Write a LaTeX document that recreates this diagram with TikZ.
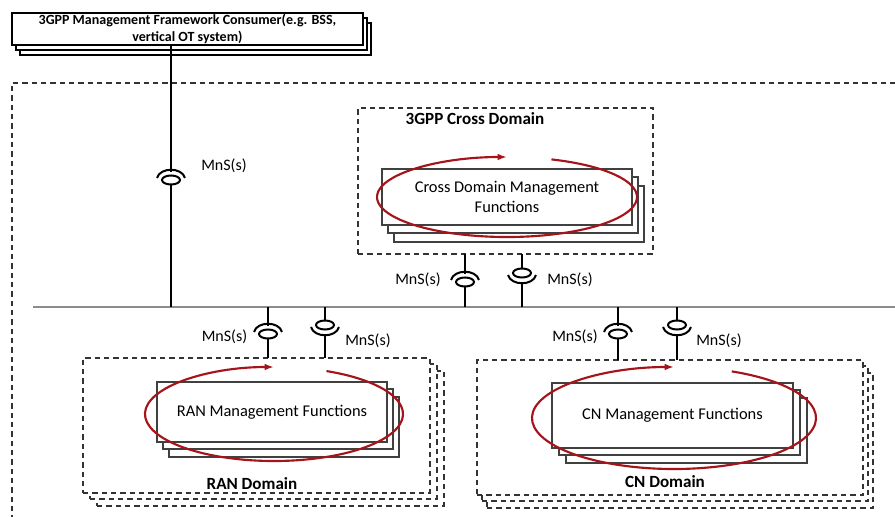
\documentclass[tikz,border=0pt]{standalone}
\usepackage{fontspec}
\setmainfont{Carlito}
\usetikzlibrary{arrows.meta, shadows, positioning}

\definecolor{loopred}{RGB}{165,20,26}
\definecolor{boxgray}{RGB}{64,64,64}
\definecolor{busgray}{RGB}{140,140,140}

% MnS symbols: socket above the ball, or ball above the socket
\tikzset{
    mnsup/.pic={
        \fill[white] (-1.5,-4.5) rectangle (1.5,0);
        \draw[conn] (-14,2) .. controls (-11,-9) and (11,-9) .. (14,2);
        \draw[conn, fill=white] (0,4) ellipse [x radius=9, y radius=4.5];
    },
    mnsdown/.pic={
        \fill[white] (-1.5,0) rectangle (1.5,4.5);
        \draw[conn] (-14,-2) .. controls (-11,9) and (11,9) .. (14,-2);
        \draw[conn, fill=white] (0,-4) ellipse [x radius=9, y radius=4.5];
    }
}

\begin{document}
\begin{tikzpicture}[
    x=0.75pt, y=-0.75pt,
    every node/.style={align=center, inner sep=0pt, outer sep=0pt},
    stacked/.style n args={4}{copy shadow={shadow xshift=#3, shadow yshift=-#4}, copy shadow={shadow xshift=#1, shadow yshift=-#2}},
    consumerbox/.style={rectangle, draw=black, fill=white, line width=0.8pt, font=\fontsize{10.5}{12.5}\selectfont\bfseries},
    dombox/.style={rectangle, draw=black!80, fill=white, line width=0.8pt, dash pattern=on 4pt off 3pt},
    mgmtfn/.style={rectangle, draw=boxgray, fill=white, line width=0.8pt, font=\fontsize{12.3}{15}\selectfont},
    domtitle/.style={font=\fontsize{12.8}{15}\selectfont\bfseries},
    mns/.style={font=\fontsize{12}{14}\selectfont},
    conn/.style={line width=1.5pt, black},
    bus/.style={line width=0.8pt, busgray},
    outerline/.style={line width=0.8pt, black!80, dash pattern=on 4pt off 3pt},
    cyclearc/.style={-{Latex[length=7pt, width=5pt]}, line width=1.6pt, loopred}
]
\useasboundingbox (0,0) rectangle (895,517);
\clip (0,0) rectangle (895,517);

% --- outer frame and bus
\draw[outerline] (12,530) -- (12,83) -- (905,83);
\coordinate (busL) at (33,307);
\coordinate (busR) at (895,307);
\draw[bus] (busL) -- (busR);

\coordinate (bConsumer) at (171,307);
\coordinate (bCross1) at (465,307);
\coordinate (bCross2) at (522,307);
\coordinate (bRan1) at (268,307);
\coordinate (bRan2) at (325,307);
\coordinate (bCn1) at (618,307);
\coordinate (bCn2) at (677,307);

% --- consumer
\node[consumerbox, stacked={3pt}{3.75pt}{6pt}{7.5pt}, minimum width=263.25pt, minimum height=24pt] (consumer) at (187.5,29) {3GPP Management Framework Consumer(e.g. BSS,\\vertical OT system)};

% --- cross domain
\node[dombox, minimum width=221.25pt, minimum height=109.5pt] (crossdom) at (505.5,181) {};
\node[domtitle] (crosstitle) at (475,119) {3GPP Cross Domain};
\node[mgmtfn, stacked={4.5pt}{6pt}{9pt}{12.75pt}, minimum width=187.5pt, minimum height=42pt] (crossfn) at (507,197) {Cross Domain Management\\Functions};

% --- RAN domain
\node[dombox, stacked={5.25pt}{4.5pt}{10.5pt}{9.75pt}, minimum width=260.25pt, minimum height=101.25pt] (random) at (256.5,425.5) {};
\node[domtitle] (rantitle) at (252,484) {RAN Domain};
\node[mgmtfn, stacked={4.5pt}{5.25pt}{9pt}{11.25pt}, minimum width=172.5pt, minimum height=45pt] (ranfn) at (272,412) {RAN Management Functions};

% --- CN domain
\node[dombox, stacked={3.75pt}{4.5pt}{7.5pt}{9.75pt}, minimum width=289.5pt, minimum height=101.25pt] (cndom) at (670,427.5) {};
\node[domtitle] (cntitle) at (665,482) {CN Domain};
\node[mgmtfn, stacked={5.25pt}{5.25pt}{10.5pt}{11.25pt}, minimum width=180.75pt, minimum height=48.75pt] (cnfn) at (672.5,415.5) {CN Management Functions};

% --- loops
\draw[cyclearc] (507,197) ++(-70:130 and 40) arc[start angle=-70, end angle=270, x radius=130, y radius=40];
\draw[cyclearc] (274,414) ++(-66:129 and 47) arc[start angle=-66, end angle=270, x radius=129, y radius=47];
\draw[cyclearc] (674,418) ++(-66:142 and 51) arc[start angle=-66, end angle=270, x radius=142, y radius=51];

% --- connectors to the bus
\draw[conn] (consumer.south -| bConsumer) -- (bConsumer);
\draw[conn] (crossdom.south -| bCross1) -- (bCross1);
\draw[conn] (crossdom.south -| bCross2) -- (bCross2);
\draw[conn] (bRan1) -- (bRan1 |- random.north);
\draw[conn] (bRan2) -- (bRan2 |- random.north);
\draw[conn] (bCn1) -- (bCn1 |- cndom.north);
\draw[conn] (bCn2) -- (bCn2 |- cndom.north);

% --- MnS symbols
\pic at (171,176) {mnsup};
\pic at (465,278) {mnsup};
\pic at (522,277) {mnsdown};
\pic at (268,330) {mnsup};
\pic at (325,329) {mnsdown};
\pic at (618,330) {mnsup};
\pic at (677,329) {mnsdown};

% --- labels
\node[mns] (mnsConsumer) at (224,166) {MnS(s)};
\node[mns] (mnsCross1) at (418,280) {MnS(s)};
\node[mns] (mnsCross2) at (570,280) {MnS(s)};
\node[mns] (mnsRan1) at (224.5,337) {MnS(s)};
\node[mns] (mnsRan2) at (368,341) {MnS(s)};
\node[mns] (mnsCn1) at (575,337) {MnS(s)};
\node[mns] (mnsCn2) at (719,341) {MnS(s)};

\end{tikzpicture}
\end{document}
